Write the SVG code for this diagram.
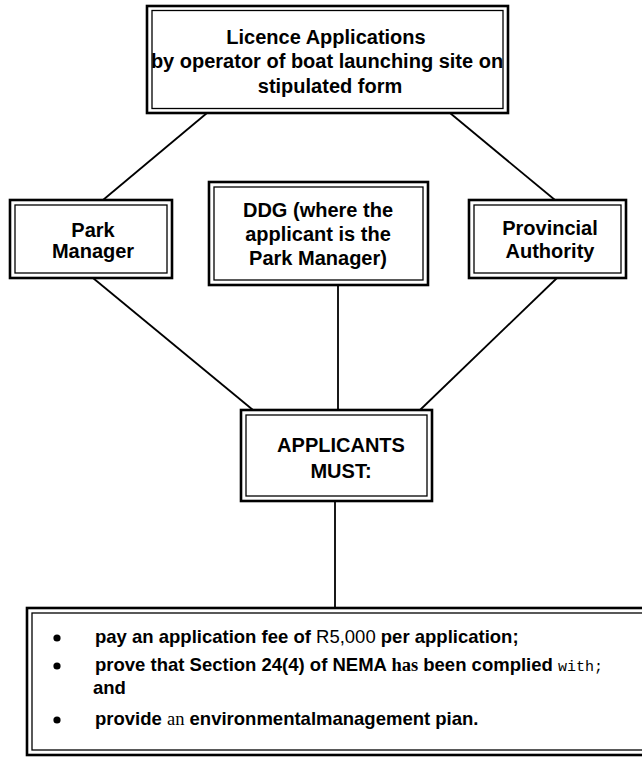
<svg xmlns="http://www.w3.org/2000/svg" width="642" height="758" viewBox="0 0 642 758">
<style>
.o{fill:#fff;stroke:#000;stroke-width:2.6}
.i{fill:none;stroke:#000;stroke-width:1.3}
.t{font-family:"Liberation Sans",Arial,sans-serif;font-weight:bold;font-size:20px;fill:#000;text-anchor:middle}
.b{font-family:"Liberation Sans",Arial,sans-serif;font-weight:bold;font-size:18.5px;fill:#000}
.c{stroke:#000;stroke-width:1.8;fill:none}
</style>
<rect width="642" height="758" fill="#fff"/>
<g id="connectors">
<line class="c" x1="207" y1="113" x2="103" y2="200"/>
<line class="c" x1="450" y1="113" x2="555" y2="200"/>
<line class="c" x1="338" y1="285" x2="338" y2="410"/>
<line class="c" x1="93" y1="278" x2="253" y2="410"/>
<line class="c" x1="557" y1="278" x2="420" y2="410"/>
<line class="c" x1="335" y1="501" x2="335" y2="608"/>
</g>
<g id="licence">
<rect class="o" x="147" y="6" width="361" height="107"/>
<rect class="i" x="152" y="10.5" width="351" height="98"/>
<text class="t" x="326" y="44">Licence Applications</text>
<text class="t" x="327" y="68">by operator of boat launching site on</text>
<text class="t" x="330" y="93">stipulated form</text>
</g>
<g id="park">
<rect class="o" x="10" y="200" width="162" height="78"/>
<rect class="i" x="15" y="205" width="152" height="68"/>
<text class="t" x="93" y="237">Park</text>
<text class="t" x="93" y="258">Manager</text>
</g>
<g id="ddg">
<rect class="o" x="209" y="182" width="219" height="103"/>
<rect class="i" x="214" y="187" width="209" height="93"/>
<text class="t" x="318" y="217">DDG (where the</text>
<text class="t" x="318" y="241">applicant is the</text>
<text class="t" x="318" y="265">Park Manager)</text>
</g>
<g id="provincial">
<rect class="o" x="469" y="200" width="157" height="78"/>
<rect class="i" x="474" y="205" width="147" height="68"/>
<text class="t" x="550" y="235">Provincial</text>
<text class="t" x="550" y="258">Authority</text>
</g>
<g id="applicants">
<rect class="o" x="241" y="410" width="191" height="91"/>
<rect class="i" x="246" y="415" width="181" height="81"/>
<text class="t" x="341" y="452">APPLICANTS</text>
<text class="t" x="341" y="478">MUST:</text>
</g>
<g id="requirements">
<rect class="o" x="27" y="608" width="640" height="147"/>
<rect class="i" x="32" y="613" width="630" height="137"/>
<circle cx="57" cy="638" r="3.6"/>
<circle cx="57" cy="666" r="3.6"/>
<circle cx="57" cy="720" r="3.6"/>
<text class="b" x="95" y="643">pay an application fee of <tspan font-weight="normal">R5,000</tspan> per application;</text>
<text class="b" x="95" y="671">prove that Section 24(4) of NEMA <tspan font-family="'Liberation Serif',serif">has</tspan> been complied <tspan font-family="'Liberation Mono',monospace" font-weight="normal" font-size="15">with;</tspan></text>
<text class="b" x="93" y="694">and</text>
<text class="b" x="95" y="725">provide <tspan font-family="'Liberation Serif',serif" font-weight="normal">an</tspan> environmentalmanagement pian.</text>
</g>
</svg>
